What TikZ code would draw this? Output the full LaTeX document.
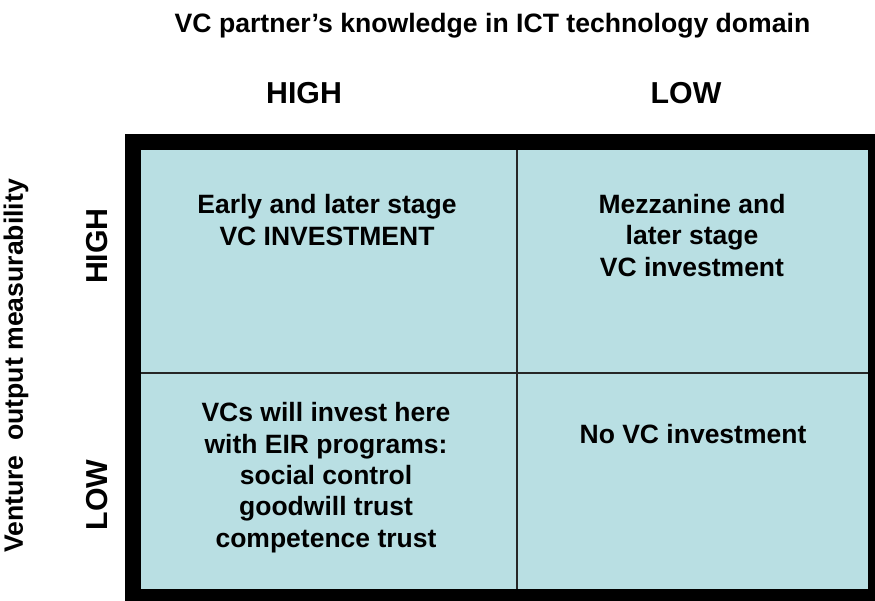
\documentclass[tikz,border=0pt]{standalone}
\usepackage{fontspec}
\setmainfont{Liberation Sans}
\definecolor{cellblue}{RGB}{185,223,227}
\begin{document}
\begin{tikzpicture}[x=1pt,y=-1pt,
  every node/.style={inner sep=0pt, outer sep=0pt, font=\bfseries},
  celltext/.style={align=center, font=\bfseries\fontsize{26.5}{31.3}\selectfont, anchor=base},
  head/.style={font=\bfseries\fontsize{30.3}{34}\selectfont, anchor=base},
  sidehead/.style={font=\bfseries\fontsize{30.3}{34}\selectfont, rotate=90, anchor=center, text depth=0pt},
  divider/.style={line width=2pt, draw=black!85}]
\clip (0,0) rectangle (875,600);
\fill[white] (0,0) rectangle (875,600);
% frame
\fill[black] (125,134) rectangle (884,605);
\fill[cellblue] (141,150) rectangle (868,589);
\coordinate (vt) at (517,150);
\coordinate (vb) at (517,589);
\coordinate (hl) at (141,373);
\coordinate (hr) at (868,373);
\draw[divider] (vt) -- (vb);
\draw[divider] (hl) -- (hr);
% titles
\node[anchor=base, font=\bfseries\fontsize{26.6}{31}\selectfont] (title) at (492.5,32) {VC partner’s knowledge in ICT technology domain};
\node[head] (colhigh) at (304,103) {HIGH};
\node[head] (collow) at (686,103) {LOW};
\node[rotate=90, font=\bfseries\fontsize{26.6}{31}\selectfont] (side) at (16,366) {Venture\ \ output measurability};
\node[sidehead] (rowhigh) at (97,246) {HIGH};
\node[sidehead] (rowlow) at (97,495) {LOW};
% cells
\node[celltext] (c11) at (327,245) {Early and later stage\\VC INVESTMENT};
\node[celltext] (c12) at (692,276) {Mezzanine and\\later stage\\VC investment};
\node[celltext] (c21) at (326,547) {VCs will invest here\\with EIR programs:\\social control\\goodwill trust\\competence trust};
\node[celltext] (c22) at (693,443) {No VC investment};
\end{tikzpicture}
\end{document}
